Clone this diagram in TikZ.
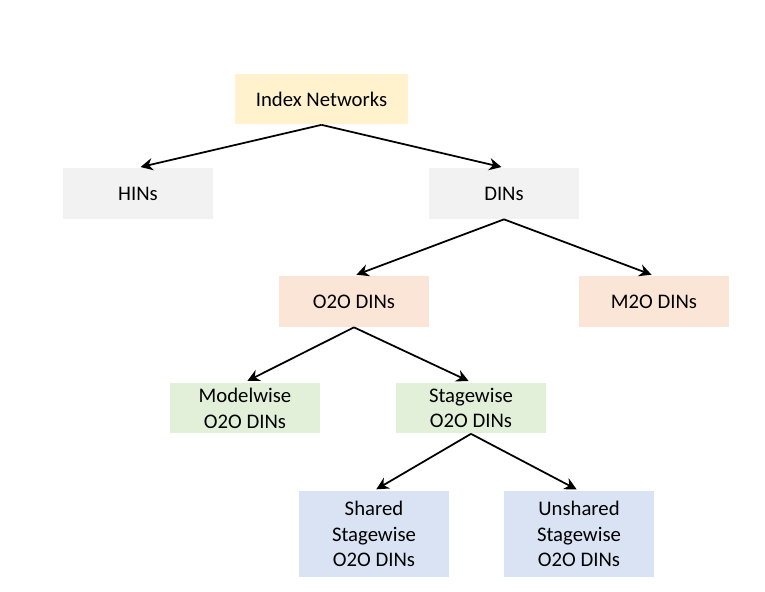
\documentclass[tikz,border=0pt]{standalone}
\usepackage{fontspec}
\setmainfont{Carlito}
\usepackage{tikz}
\usetikzlibrary{arrows.meta, positioning}
\usepackage{xcolor}
\definecolor{idxyellow}{HTML}{FFF2CC}
\definecolor{dingray}{HTML}{F2F2F2}
\definecolor{o2oorange}{HTML}{FBE5D6}
\definecolor{wisegreen}{HTML}{E2F0D9}
\definecolor{shareblue}{HTML}{DAE3F3}

\begin{document}
\begin{tikzpicture}[
  x=0.02cm, y=-0.02cm,
  cat/.style={minimum width=3cm, minimum height=1.02cm, align=center,
    font=\fontsize{11.8}{14.7}\selectfont, inner sep=0pt},
  link/.style={-{Stealth[length=7pt, width=7pt]}, line width=1pt, shorten >=1.5pt},
  >=Stealth
]
  \useasboundingbox (0,0) rectangle (765,592);

  % Root
  \node[cat, fill=idxyellow, minimum width=3.46cm] (idx) at (321.5, 99) {Index Networks};

  % Level 1
  \node[cat, fill=dingray] (hin) at (138, 193.5) {HINs};
  \node[cat, fill=dingray] (din) at (504, 193.5) {DINs};

  % Level 2
  \node[cat, fill=o2oorange] (o2o) at (354, 301.5) {O2O DINs};
  \node[cat, fill=o2oorange] (m2o) at (654, 301.5) {M2O DINs};

  % Level 3
  \node[cat, fill=wisegreen] (model) at (245, 408) {Modelwise\\O2O DINs};
  \node[cat, fill=wisegreen] (stage) at (471, 408) {Stagewise\\O2O DINs};

  % Level 4
  \node[cat, fill=shareblue, minimum height=1.72cm] (shared) at (374, 534)
    {Shared\\Stagewise\\O2O DINs};
  \node[cat, fill=shareblue, minimum height=1.72cm] (unshared) at (579, 534)
    {Unshared\\Stagewise\\O2O DINs};

  % Links
  \draw[link] (idx.south) -- (hin.north);
  \draw[link] (idx.south) -- (din.north);
  \draw[link] (din.south) -- (o2o.north);
  \draw[link] (din.south) -- (m2o.north);
  \draw[link] (o2o.south) -- (model.north);
  \draw[link] (o2o.south) -- (stage.north);
  \draw[link] (stage.south) -- (shared.north);
  \draw[link] (stage.south) -- (unshared.north);
\end{tikzpicture}
\end{document}
